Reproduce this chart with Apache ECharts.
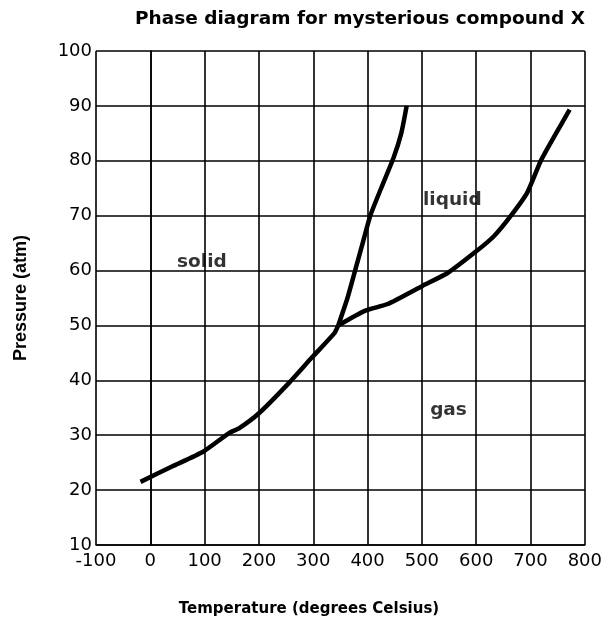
<!DOCTYPE html>
<html>
<head>
<meta charset="utf-8">
<script src="https://cdn.jsdelivr.net/npm/echarts@6/dist/echarts.min.js"></script>
<style>html,body{margin:0;padding:0;background:#fff;}#c{width:605px;height:621px;}</style>
</head>
<body>
<div id="c"></div>
<script>
// Data
const sublimationCurve = [[-18,21.5],[40,24.3],[97,27],[145,30.4],[164,31.3],[200,34],[255,39.5],[297,44.1],[339,48.6],[346,50]];
const meltingCurve = [[346,50],[363,55],[377,60],[391,65],[405,70],[425,75],[448,80.6],[462,85],[472,90]];
const boilingCurve = [[346,50],[396,52.7],[437,53.9],[501,57.2],[548,59.6],[600,63.5],[633,66.3],[664,70],[694,74.2],[719,80],[743,84.3],[772,89.3]];
const phaseLabels = ['solid','liquid','gas'];
const phaseLabelPos = [[95,61.6],[556,72.9],[549,34.6]];
const xTicks = [-100,0,100,200,300,400,500,600,700,800];
const yTicks = [10,20,30,40,50,60,70,80,90,100];

const wide = 'DejaVu Sans, Verdana, sans-serif';
const narrow = 'Liberation Sans, Arial, sans-serif';
const chart = echarts.init(document.getElementById('c'), null, {renderer:'canvas'});
const lineStyle = {color:'#000', width:4.5};
function curve(d){ return {type:'line', data:d, showSymbol:false, symbol:'none', lineStyle:lineStyle, smooth:0.2, z:5}; }
chart.setOption({
  animation:false,
  backgroundColor:'#fff',
  title:[
    {text:'Phase diagram for mysterious compound X', left:355, textAlign:'center', top:5,
      textStyle:{fontFamily:wide, fontWeight:'bold', fontSize:18.5, color:'#000'}},
    {text:'Temperature (degrees Celsius)', left:304, textAlign:'center', top:597,
      textStyle:{fontFamily:wide, fontWeight:'bold', fontSize:15, color:'#000'}}
  ],
  grid:{left:96, right:15, top:51, bottom:76},
  xAxis:{type:'value', min:xTicks[0], max:xTicks[xTicks.length-1], interval:100,
    axisLine:{lineStyle:{color:'#000', width:1.5}}, axisTick:{show:false},
    axisLabel:{fontFamily:wide, fontSize:18, color:'#000', margin:7},
    splitLine:{show:true, lineStyle:{color:'#000', width:1.6}}},
  yAxis:{type:'value', min:yTicks[0], max:yTicks[yTicks.length-1], interval:10,
    name:'Pressure (atm)', nameLocation:'middle', nameGap:66,
    nameTextStyle:{fontFamily:narrow, fontWeight:'bold', fontSize:18, color:'#000'},
    axisLine:{show:true, lineStyle:{color:'#000', width:1.5}}, axisTick:{show:false},
    axisLabel:{fontFamily:wide, fontSize:18, color:'#000', margin:4},
    splitLine:{show:true, lineStyle:{color:'#000', width:1.6}}},
  series:[
    curve(sublimationCurve), curve(meltingCurve), curve(boilingCurve),
    {type:'scatter', symbolSize:0, z:6,
      data:phaseLabelPos.map((p,i)=>({value:p, name:phaseLabels[i]})),
      label:{show:true, position:'inside', formatter:p=>p.name, fontFamily:wide, fontWeight:'bold', fontSize:18.5, color:'#000'}}
  ]
});
</script>
</body>
</html>
